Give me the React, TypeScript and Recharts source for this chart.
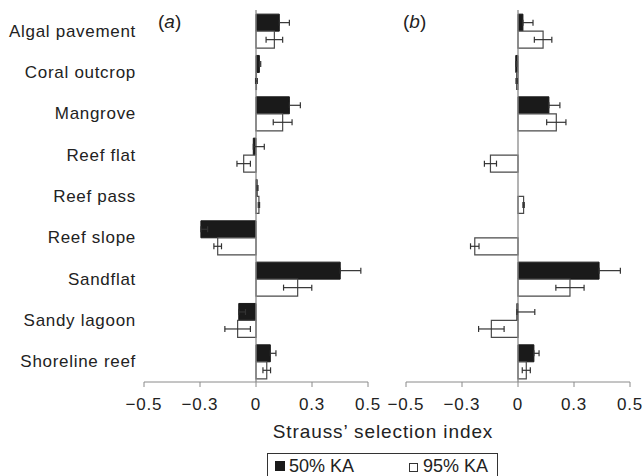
import React from "react";
import {
  Bar,
  BarChart,
  ErrorBar,
  ReferenceLine,
  XAxis,
  YAxis,
} from "recharts";

const FONT = '"Liberation Sans", Arial, Helvetica, sans-serif';
const TEXT = "#222";

const habitats = [
  "Algal pavement",
  "Coral outcrop",
  "Mangrove",
  "Reef flat",
  "Reef pass",
  "Reef slope",
  "Sandflat",
  "Sandy lagoon",
  "Shoreline reef",
];

// x ticks sit at quarter steps but are printed with one decimal
const tickValues = [-0.5, -0.25, 0, 0.25, 0.5];
const tickLabels = ["\u22120.5", "\u22120.3", "0", "0.3", "0.5"];

// panel (a)
const ka50A = [0.104, 0.015, 0.149, -0.012, 0.005, -0.246, 0.376, -0.077, 0.064];
const err50A = [0.045, 0.006, 0.049, 0.049, 0.004, 0.03, 0.092, 0.03, 0.025];
const ka95A = [0.082, 0.002, 0.119, -0.055, 0.013, -0.171, 0.186, -0.082, 0.048];
const err95A = [0.037, 0.004, 0.042, 0.03, 0.003, 0.017, 0.063, 0.057, 0.017];

// panel (b)
const ka50B = [0.022, -0.01, 0.138, 0, 0, 0, 0.362, -0.005, 0.071];
const err50B = [0.045, 0.004, 0.049, null, null, null, 0.095, 0.08, 0.023];
const ka95B = [0.112, -0.006, 0.171, -0.123, 0.025, -0.193, 0.232, -0.119, 0.037];
const err95B = [0.039, 0.003, 0.043, 0.027, 0.003, 0.019, 0.063, 0.057, 0.018];

type Row = {
  habitat: string;
  ka50: number;
  ka95: number;
  e50: [number, number] | null;
  e95: number | null;
};

function buildRows(
  ka50: number[],
  err50: (number | null)[],
  ka95: number[],
  err95: (number | null)[]
): Row[] {
  return habitats.map((habitat, i) => ({
    habitat,
    ka50: ka50[i],
    ka95: ka95[i],
    // black bars only show the upper half of the error
    e50: err50[i] == null ? null : [0, err50[i] as number],
    e95: err95[i],
  }));
}

const dataA = buildRows(ka50A, err50A, ka95A, err95A);
const dataB = buildRows(ka50B, err50B, ka95B, err95B);

function XTick(props: any) {
  const { x, y, payload } = props;
  const idx = tickValues.indexOf(payload.value);
  return (
    <text
      x={x}
      y={y + 12}
      textAnchor="middle"
      fill={TEXT}
      fontSize={17}
      fontFamily={FONT}
      style={{ letterSpacing: "0.8px" }}
    >
      {idx >= 0 ? tickLabels[idx] : payload.value}
    </text>
  );
}

function YTick(props: any) {
  const { x, y, payload } = props;
  return (
    <text
      x={x}
      y={y + 6}
      textAnchor="end"
      fill={TEXT}
      fontSize={17}
      fontFamily={FONT}
      style={{ letterSpacing: "0.7px" }}
    >
      {payload.value}
    </text>
  );
}

interface PanelProps {
  data: Row[];
  showLabels: boolean;
  left: number;
  width: number;
  marginLeft: number;
  marginRight: number;
}

function Panel({ data, showLabels, left, width, marginLeft, marginRight }: PanelProps) {
  return (
    <div style={{ position: "absolute", left, top: 0 }}>
      <BarChart
        width={width}
        height={420}
        data={data}
        layout="vertical"
        barGap={0}
        barCategoryGap="10%"
        margin={{ top: 10, right: marginRight, bottom: 0, left: marginLeft }}
      >
        <XAxis
          type="number"
          domain={[-0.5, 0.5]}
          ticks={tickValues}
          interval={0}
          allowDataOverflow
          height={38}
          tickSize={5}
          tickMargin={11}
          stroke="#8a8a8a"
          tick={<XTick />}
        />
        <YAxis
          type="category"
          dataKey="habitat"
          hide={!showLabels}
          width={144}
          axisLine={false}
          tickLine={false}
          interval={0}
          tick={<YTick />}
        />
        <ReferenceLine x={0} stroke="#8a8a8a" strokeWidth={1.3} />
        <Bar
          dataKey="ka50"
          fill="#1a1a1a"
          stroke="#1a1a1a"
          strokeWidth={1}
          isAnimationActive={false}
        >
          <ErrorBar dataKey="e50" direction="x" width={3} stroke="#333" strokeWidth={1.2} />
        </Bar>
        <Bar
          dataKey="ka95"
          fill="#ffffff"
          stroke="#4a4a4a"
          strokeWidth={1.2}
          isAnimationActive={false}
        >
          <ErrorBar dataKey="e95" direction="x" width={3} stroke="#333" strokeWidth={1.2} />
        </Bar>
      </BarChart>
    </div>
  );
}

export default function App() {
  return (
    <div
      style={{
        position: "absolute",
        left: 0,
        top: 0,
        width: 643,
        height: 476,
        background: "#fff",
        overflow: "hidden",
      }}
    >
      <Panel data={dataA} showLabels left={0} width={395} marginLeft={0} marginRight={27} />
      <Panel data={dataB} showLabels={false} left={380} width={263} marginLeft={26} marginRight={13} />

      <svg
        width={643}
        height={476}
        style={{ position: "absolute", left: 0, top: 0, pointerEvents: "none" }}
        fontFamily={FONT}
      >
        <text x={158} y={28} fontSize={19} fill={TEXT}>
          (<tspan fontStyle="italic">a</tspan>)
        </text>
        <text x={403} y={28} fontSize={19} fill={TEXT}>
          (<tspan fontStyle="italic">b</tspan>)
        </text>

        <text
          x={383}
          y={438}
          fontSize={19}
          fill={TEXT}
          textAnchor="middle"
          style={{ letterSpacing: "0.9px" }}
        >
          Strauss’ selection index
        </text>

        <rect x={267.5} y={453.5} width={230} height={30} fill="#fff" stroke="#333" strokeWidth={1} />
        <rect x={275} y={461} width={10} height={10} fill="#1a1a1a" />
        <text x={289} y={472} fontSize={18} fill={TEXT}>
          50% KA
        </text>
        <rect x={409.5} y={463.5} width={8} height={8} fill="#fff" stroke="#333" strokeWidth={1} />
        <text x={423} y={472} fontSize={18} fill={TEXT}>
          95% KA
        </text>
      </svg>
    </div>
  );
}
